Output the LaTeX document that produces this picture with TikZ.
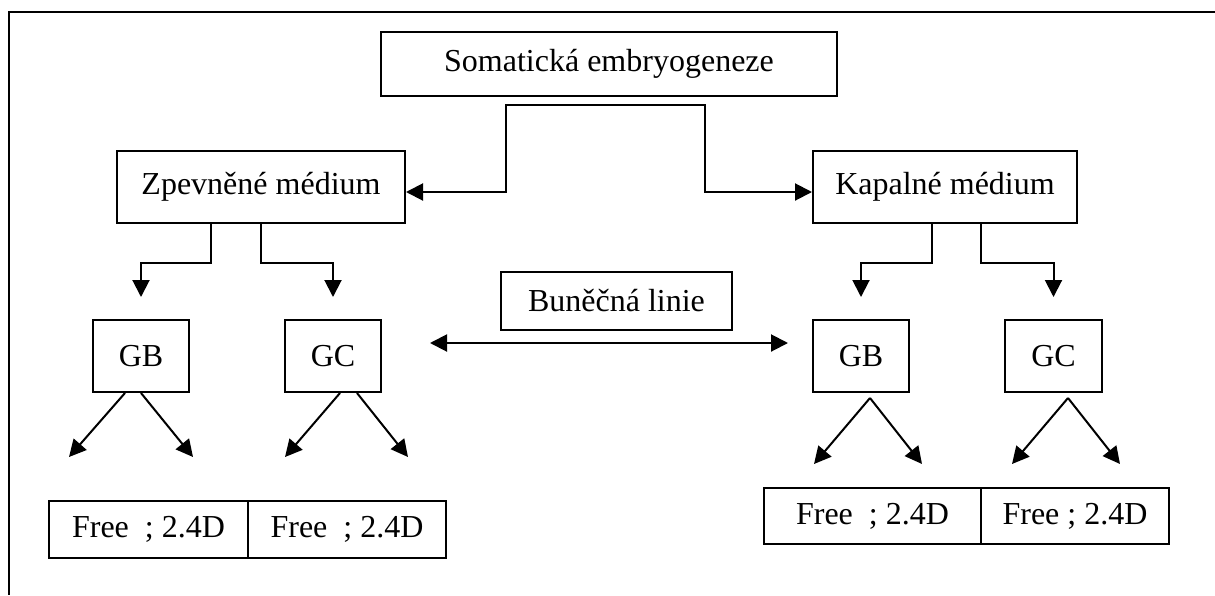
\documentclass[tikz,border=0pt]{standalone}
\usepackage{fontspec}
\setmainfont{Liberation Serif}
\usetikzlibrary{arrows.meta}

\begin{document}
\begin{tikzpicture}[x=0.5pt,y=-0.5pt,
  box/.style={shape=rectangle,draw=black,align=center,line width=1pt,inner sep=0pt,font=\fontsize{16}{19}\selectfont},
  arr/.style={-{Triangle[length=8.5pt,width=8.5pt]},draw=black,line width=1pt},
  arr2/.style={{Triangle[length=8.5pt,width=8.5pt]}-{Triangle[length=8.5pt,width=8.5pt]},draw=black,line width=1pt}]
\useasboundingbox (0,0) rectangle (1215,595);
\draw[line width=1pt] (1215,12) -- (9,12) -- (9,595);

\node[box,minimum width=228pt,minimum height=32pt] (0) at (609,64) {Somatická embryogeneze};
\node[box,minimum width=144pt,minimum height=36pt] (1) at (261,187) {Zpevněné médium};
\node[box,minimum width=132pt,minimum height=36pt] (2) at (945,187) {Kapalné médium};
\node[box,minimum width=48pt,minimum height=36pt] (3) at (141,356) {GB};
\node[box,minimum width=48pt,minimum height=36pt] (4) at (333,356) {GC};
\node[box,minimum width=115.5pt,minimum height=29pt] (5) at (616.5,301) {Buněčná linie};
\node[box,minimum width=48pt,minimum height=36pt] (6) at (861,356) {GB};
\node[box,minimum width=48.5pt,minimum height=36pt] (7) at (1053.5,356) {GC};
\node[box,minimum width=99.5pt,minimum height=28.5pt] (8) at (148.5,529.5) {Free~~; 2.4D};
\node[box,minimum width=99pt,minimum height=28.5pt] (9) at (347,529.5) {Free~~; 2.4D};
\node[box,minimum width=108.5pt,minimum height=28pt] (10) at (872.5,516) {Free~~; 2.4D};
\node[box,minimum width=94pt,minimum height=28pt] (11) at (1075,516) {Free ; 2.4D};

\coordinate (l) at (430,343);
\coordinate (r) at (788,343);
\coordinate (t3a) at (69,457);
\coordinate (t3b) at (193,457);
\coordinate (t4a) at (285,457);
\coordinate (t4b) at (408,457);
\coordinate (t6a) at (814,464);
\coordinate (t6b) at (922,464);
\coordinate (t7a) at (1012,464);
\coordinate (t7b) at (1120,464);

\draw[arr] ([yshift=-4pt]0.south) -- ++(-103,0) |- ([yshift=-2.5pt]1.east);
\draw[arr] ([yshift=-4pt]0.south) -- ++(96,0) |- ([yshift=-2.5pt]2.west);

\draw[arr] ([xshift=-25pt]1.south) -- ++(0,39) -| ([yshift=11pt]3.north);
\draw[arr] (1.south) -- ++(0,39) -| ([yshift=11pt]4.north);
\draw[arr] ([xshift=-6.5pt]2.south) -- ++(0,39) -| ([yshift=11pt]6.north);
\draw[arr] ([xshift=18pt]2.south) -- ++(0,39) -| ([yshift=11pt]7.north);

\draw[arr2] (l) -- (r);

\draw[arr] ([xshift=-8pt]3.south) -- (t3a);
\draw[arr] (3.south) -- (t3b);
\draw[arr] ([xshift=3.5pt]4.south) -- (t4a);
\draw[arr] ([xshift=12pt]4.south) -- (t4b);
\draw[arr] ([xshift=4.5pt,yshift=-2.5pt]6.south) -- (t6a);
\draw[arr] ([xshift=4.5pt,yshift=-2.5pt]6.south) -- (t6b);
\draw[arr] ([xshift=7.25pt,yshift=-2.5pt]7.south) -- (t7a);
\draw[arr] ([xshift=7.25pt,yshift=-2.5pt]7.south) -- (t7b);
\end{tikzpicture}
\end{document}
